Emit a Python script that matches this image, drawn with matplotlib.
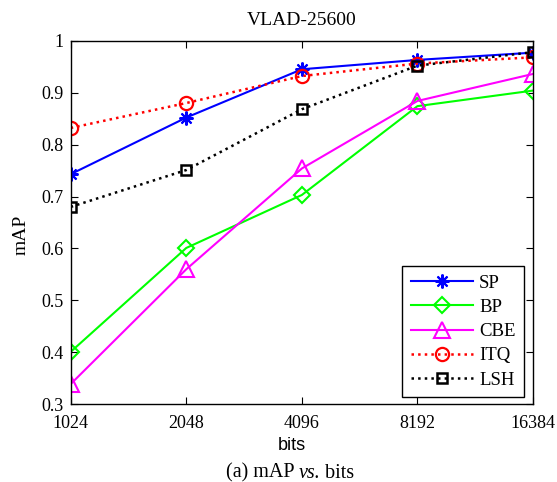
import matplotlib
matplotlib.use("Agg")
import matplotlib.pyplot as plt

bits = [1024, 2048, 4096, 8192, 16384]
tick_labels = ["1024", "2048", "4096", "8192", "16384"]
sp = [0.743, 0.852, 0.945, 0.963, 0.977]
bp = [0.401, 0.601, 0.703, 0.874, 0.904]
cbe = [0.339, 0.560, 0.754, 0.884, 0.936]
itq = [0.832, 0.880, 0.932, 0.956, 0.968]
lsh = [0.680, 0.751, 0.868, 0.952, 0.978]

serif = "Liberation Serif"
sans = "Liberation Sans"

W, H = 557, 482
fig = plt.figure(figsize=(W / 100, H / 100), dpi=100)
ax_l, ax_r, ax_t, ax_b = 70.7, 533.0, 40.7, 404.3
ax = fig.add_axes([ax_l / W, 1 - ax_b / H, (ax_r - ax_l) / W, (ax_b - ax_t) / H])

lw = 1.5
ax.plot(bits, sp, color="#0000ff", ls="-", lw=lw, marker=(8, 2, 0), ms=10, mec="#0000ff", mew=1.5, label="SP")
ax.plot(bits, bp, color="#00ff00", ls="-", lw=lw, marker="D", ms=8, mfc="none", mec="#00ff00", mew=1.5, label="BP")
ax.plot(bits, cbe, color="#ff00ff", ls="-", lw=lw, marker="^", ms=12, mfc="none", mec="#ff00ff", mew=1.5, label="CBE")
ax.plot(bits, itq, color="#ff0000", ls=":", lw=1.8, marker="o", ms=9.5, mfc="none", mec="#ff0000", mew=1.6, label="ITQ")
ax.plot(bits, lsh, color="#000000", ls=":", lw=1.8, marker="s", ms=7.5, mfc="none", mec="#000000", mew=1.8, label="LSH")

ax.set_xscale("log", base=2)
ax.set_xlim(1024, 16384)
ax.set_ylim(0.3, 1.0)
ax.set_xticks(bits)
ax.set_xticklabels(tick_labels)
ax.minorticks_off()
ax.set_yticks([0.3, 0.4, 0.5, 0.6, 0.7, 0.8, 0.9, 1.0])
ax.set_yticklabels(["0.3", "0.4", "0.5", "0.6", "0.7", "0.8", "0.9", "1"])
ax.tick_params(direction="in", top=True, right=True, length=5, width=0.8, labelsize=13)
ax.tick_params(axis="x", pad=8)
ax.tick_params(axis="y", pad=5)
for lab in ax.get_xticklabels() + ax.get_yticklabels():
    lab.set_fontfamily(serif)
for s in ax.spines.values():
    s.set_linewidth(1.0)

ax.set_title("VLAD-25600", fontfamily=serif, fontsize=14, pad=11)

fig.text(21.5 / W, 1 - 234.5 / H, "mAP", rotation=90, ha="center", va="center", fontfamily=serif, fontsize=14)
fig.text(292 / W, 1 - 445 / H, "bits", ha="center", va="center", fontfamily=sans, fontsize=13)

leg = ax.legend(loc="lower right", prop={"family": serif, "size": 13.5}, fancybox=False,
                edgecolor="black", framealpha=1, handlelength=3.3, handletextpad=0.35,
                borderpad=0.45, labelspacing=0.38,
                bbox_to_anchor=((524 - ax_l) / (ax_r - ax_l), (ax_b - 397) / (ax_b - ax_t)),
                borderaxespad=0)
leg.get_frame().set_linewidth(1.0)

# caption with italic "vs."
renderer = fig.canvas.get_renderer()
cap_size = 14.5
parts = [("(a) mAP ", "normal"), ("vs.", "italic"), (" bits", "normal")]
widths = []
for txt, st in parts:
    tt = fig.text(0, 0, txt, fontfamily=serif, fontsize=cap_size, style=st)
    widths.append(tt.get_window_extent(renderer).width)
    tt.remove()
x0 = 290 - sum(widths) / 2
for (txt, st), w in zip(parts, widths):
    fig.text(x0 / W, 1 - 477.5 / H, txt, ha="left", va="baseline", fontfamily=serif, fontsize=cap_size, style=st)
    x0 += w

fig.savefig("out.png", dpi=100)
